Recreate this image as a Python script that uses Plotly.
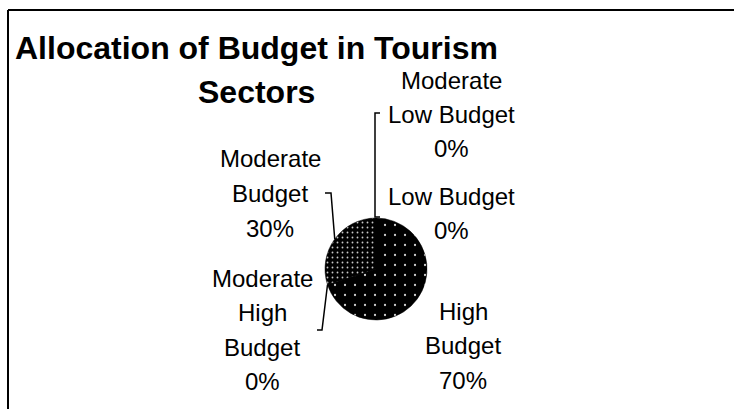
import math
import plotly.graph_objects as go

# slice order, clockwise from 12 o'clock
labels = ["Low Budget", "High Budget", "Moderate High Budget", "Moderate Budget", "Moderate Low Budget"]
values = [0, 70, 0, 30, 0]
label_lines = [["Low Budget"], ["High", "Budget"], ["Moderate", "High", "Budget"],
               ["Moderate", "Budget"], ["Moderate", "Low Budget"]]
title_lines = ["Allocation of Budget in Tourism", "Sectors"]

W, H = 734, 409
cx, cy, r = 376, 269, 51

def px(x):
    return x / W

def py(y):
    return 1 - y / H

# label block positions (pixel centre x, centre y of first line) and line step
label_pos = [(451, 196), (463, 311), (262, 278), (270, 159), (451, 80)]
step = 34.5
FONT = "Liberation Sans, Arial"

fig = go.Figure()
fig.add_trace(go.Pie(
    labels=labels, values=values, sort=False, direction="clockwise", rotation=0,
    textinfo="none", hoverinfo="label+percent", showlegend=False,
    marker=dict(colors=["black"] * 5, line=dict(color="black", width=0.5),
                pattern=dict(shape=".",
                             bgcolor="black",
                             fgcolor=["#cccccc", "#cccccc", "#cccccc", "#c8c8c8", "#cccccc"],
                             size=[10, 10, 10, 5, 10],
                             solidity=[0.04, 0.04, 0.04, 0.11, 0.04])),
    domain=dict(x=[px(cx - r), px(cx + r)], y=[py(cy + r), py(cy - r)]),
))

total = sum(values)
anns = []
for i, lab in enumerate(labels):
    pct = round(100 * values[i] / total)
    lines = label_lines[i] + [f"{pct}%"]
    x0, y0 = label_pos[i]
    for k, t in enumerate(lines):
        anns.append(dict(x=px(x0), y=py(y0 + k * step), xref="paper", yref="paper",
                         text=t, showarrow=False, xanchor="center", yanchor="middle",
                         font=dict(family=FONT, size=24, color="black")))

for t, yy in zip(title_lines, [48, 92]):
    anns.append(dict(x=px(256), y=py(yy), xref="paper", yref="paper", text=t,
                     showarrow=False, xanchor="center", yanchor="middle",
                     font=dict(family=FONT, size=32, color="black", weight="bold")))

# slice mid angles for leader lines
cum = 0
mid = []
for v in values:
    mid.append((cum + v / 2) / total * 2 * math.pi)
    cum += v

def edge(i):
    a = mid[i]
    return cx + r * math.sin(a), cy - r * math.cos(a)

shapes = []
def path(pts):
    d = "M " + " L ".join(f"{px(x)},{py(y)}" for x, y in pts)
    shapes.append(dict(type="path", path=d, xref="paper", yref="paper",
                       line=dict(color="black", width=1.5)))

# moderate low budget (top) and low budget tick
ex, ey = edge(4)
path([(ex + 4, 113), (ex - 1, 113), (ex - 1, ey - 1), (ex + 4, ey - 1)])
# moderate budget
ex, ey = edge(3)
path([(325, 193), (331, 193), (ex, ey)])
# moderate high budget
ex, ey = edge(2)
path([(ex, ey), (322, 330), (317, 330)])

# frame (only left and top edges fall inside the picture)
shapes.append(dict(type="line", xref="paper", yref="paper", x0=px(8), x1=px(8), y0=py(10), y1=0,
                   line=dict(color="black", width=2)))
shapes.append(dict(type="line", xref="paper", yref="paper", x0=px(8), x1=1, y0=py(10), y1=py(10),
                   line=dict(color="black", width=2)))

fig.update_layout(width=W, height=H, margin=dict(l=0, r=0, t=0, b=0),
                  paper_bgcolor="white", plot_bgcolor="white",
                  annotations=anns, shapes=shapes)
fig.write_html("out.html", config={"displayModeBar": False},
               post_script="document.body.style.margin='0';")
